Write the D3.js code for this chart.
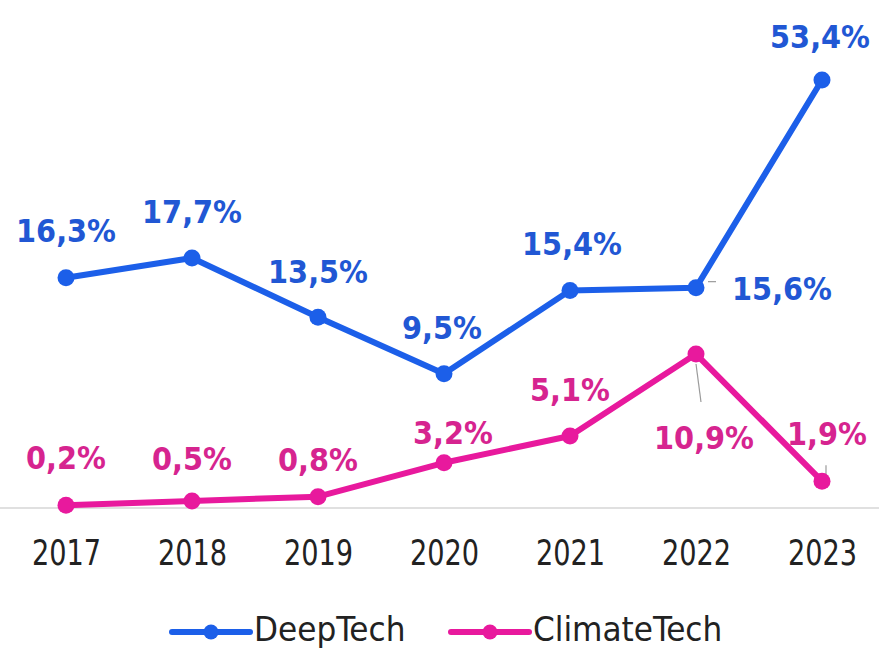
<!DOCTYPE html>
<html>
<head>
<meta charset="utf-8">
<script src="https://cdn.jsdelivr.net/npm/d3@7"></script>
<style>
  html, body { margin: 0; padding: 0; background: #fff; }
  .val { font-family: "DejaVu Sans Condensed", "DejaVu Sans"; font-stretch: condensed; font-weight: bold; font-size: 32px; }
  .tick text, .legend text { font-family: "DejaVu Sans Condensed", "DejaVu Sans"; font-stretch: condensed; }
</style>
</head>
<body>
<div id="chart"></div>
<script>
// Données
const years = ["2017", "2018", "2019", "2020", "2021", "2022", "2023"];
const deepTech = [16.3, 17.7, 13.5, 9.5, 15.4, 15.6, 53.4];
const climateTech = [0.2, 0.5, 0.8, 3.2, 5.1, 10.9, 1.9];
const seriesNames = ["DeepTech", "ClimateTech"];

// Décalages des étiquettes (dx, dy en px par rapport au point)
const deepLabelPos = [[0, -36], [0, -35], [0, -34], [-2, -35], [2, -35], [86, 12], [-2, -32]];
const climateLabelPos = [[0, -36], [0, -31], [0, -26], [9, -19], [0, -35], [8, 95], [5, -36]];

function createChart() {
    const width = 879, height = 649;
    const blue = "#1c5fe9", blueText = "#2157d4";
    const pink = "#e8199d", pinkText = "#d6248f";

    const svg = d3.select("#chart")
        .append("svg")
        .attr("width", width)
        .attr("height", height);

    // Échelles
    const x = d3.scalePoint()
        .domain(years)
        .range([66, 822]);

    // échelle rompue : 53,4 % est placé hors proportion
    const y = d3.scaleLinear()
        .domain([0, 17.7, 53.4])
        .range([508, 258, 80]);

    // Ligne de base
    svg.append("line")
        .attr("x1", 0).attr("x2", width)
        .attr("y1", y(0)).attr("y2", y(0))
        .attr("stroke", "#d6d6d6")
        .attr("stroke-width", 1.5);

    // Axe X
    const xAxis = svg.append("g")
        .attr("class", "x-axis")
        .attr("transform", `translate(0,${y(0)})`)
        .call(d3.axisBottom(x).tickSize(0).tickPadding(31));
    xAxis.select(".domain").remove();
    xAxis.selectAll("text")
        .attr("fill", "#222")
        .attr("transform", "scale(0.84,1)")
        .style("font-size", "36px");

    const series = [
        { name: seriesNames[0], values: deepTech, color: blue, textColor: blueText, pos: deepLabelPos },
        { name: seriesNames[1], values: climateTech, color: pink, textColor: pinkText, pos: climateLabelPos }
    ];

    const line = d3.line()
        .x((d, i) => x(years[i]))
        .y(d => y(d));

    const fmt = v => d3.format(".1f")(v).replace(".", ",") + "%";

    // Traits de rappel (gris)
    const leaders = [
        [x("2022") + 12, y(15.6) - 6, x("2022") + 20, y(15.6) - 6],
        [x("2022"), y(10.9) + 10, x("2022") + 5, y(10.9) + 48],
        [x("2023") + 4, y(1.9) - 16, x("2023") + 4, y(1.9) - 6]
    ];
    svg.selectAll(".leader")
        .data(leaders)
        .enter()
        .append("line")
        .attr("class", "leader")
        .attr("x1", d => d[0]).attr("y1", d => d[1])
        .attr("x2", d => d[2]).attr("y2", d => d[3])
        .attr("stroke", "#9a9a9a")
        .attr("stroke-width", 1.2);

    series.forEach(s => {
        svg.append("path")
            .datum(s.values)
            .attr("fill", "none")
            .attr("stroke", s.color)
            .attr("stroke-width", 6)
            .attr("stroke-linejoin", "round")
            .attr("d", line);

        svg.selectAll(null)
            .data(s.values)
            .enter()
            .append("circle")
            .attr("cx", (d, i) => x(years[i]))
            .attr("cy", d => y(d))
            .attr("r", 8.5)
            .attr("fill", s.color);

        svg.selectAll(null)
            .data(s.values)
            .enter()
            .append("text")
            .attr("class", "val")
            .attr("x", (d, i) => x(years[i]) + s.pos[i][0])
            .attr("y", (d, i) => y(d) + s.pos[i][1])
            .attr("text-anchor", "middle")
            .attr("fill", s.textColor)
            .text(fmt);
    });

    // Légende
    const legend = svg.append("g")
        .attr("class", "legend")
        .attr("transform", "translate(0,632)");

    const legendX = [172, 451];
    const items = legend.selectAll(".legend-item")
        .data(series)
        .enter()
        .append("g")
        .attr("class", "legend-item")
        .attr("transform", (d, i) => `translate(${legendX[i]},0)`);

    items.append("line")
        .attr("x1", 0).attr("x2", 78)
        .attr("stroke", d => d.color)
        .attr("stroke-width", 6)
        .attr("stroke-linecap", "round");

    items.append("circle")
        .attr("cx", 39)
        .attr("r", 7.5)
        .attr("fill", d => d.color);

    items.append("text")
        .attr("transform", "translate(82,9) scale(1.02,1)")
        .attr("fill", "#222")
        .style("font-size", "34px")
        .text(d => d.name);
}

createChart();
</script>
</body>
</html>
